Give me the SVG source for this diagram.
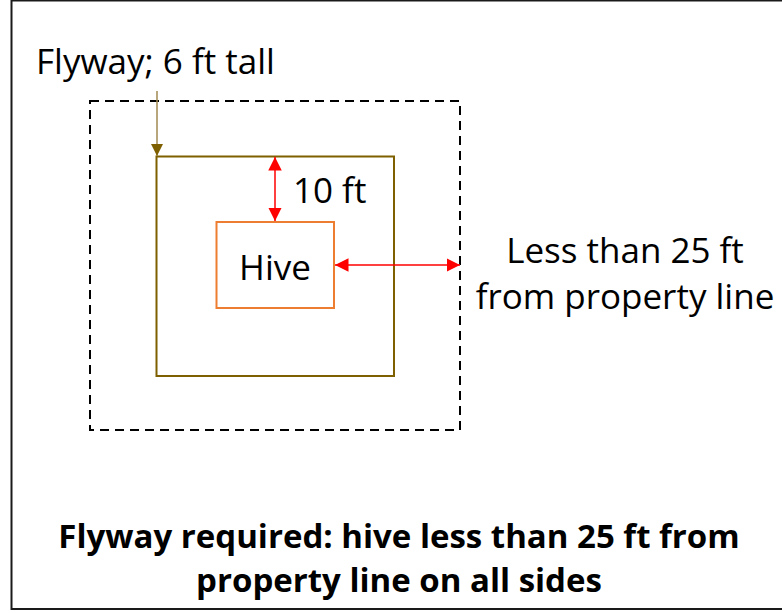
<svg xmlns="http://www.w3.org/2000/svg" width="782" height="613" viewBox="0 0 782 613">
<style>
text{font-family:"Open Sans","Liberation Sans",sans-serif;fill:#000}
.t{font-size:35px}
.b{font-size:33px;font-weight:bold}
</style>
<defs>
<marker id="ao" viewBox="0 0 10 10" refX="10" refY="5" markerWidth="8" markerHeight="8" orient="auto"><path d="M0,0L10,5L0,10z" fill="#7f6000"/></marker>
<marker id="ar" viewBox="0 0 10 10" refX="10" refY="5" markerWidth="9" markerHeight="9" orient="auto-start-reverse"><path d="M0,0L10,5L0,10z" fill="#ff0000"/></marker>
</defs>
<rect width="782" height="613" fill="#fff"/>
<rect id="frame" x="11.5" y="0.5" width="790" height="608.5" fill="none" stroke="#1a1a1a" stroke-width="2"/>
<g id="flyway"><rect x="90" y="101" width="370" height="329" fill="none" stroke="#000" stroke-width="2" stroke-dasharray="9,6"/></g>
<g id="inner"><rect x="156.5" y="156.5" width="237.5" height="219.5" fill="none" stroke="#7f6000" stroke-width="2"/></g>
<g id="hive"><rect x="216.5" y="222" width="117.5" height="86" fill="none" stroke="#ed7d31" stroke-width="2"/><text class="t" x="275" y="280" text-anchor="middle">Hive</text></g>
<g id="connectors">
<line x1="157" y1="91" x2="157" y2="156" stroke="#a08a50" stroke-width="1.5" marker-end="url(#ao)"/>
<line x1="275" y1="157" x2="275" y2="221" stroke="#ff0000" stroke-width="1.5" marker-start="url(#ar)" marker-end="url(#ar)"/>
<line x1="335" y1="265" x2="460" y2="265" stroke="#ff0000" stroke-width="1.5" marker-start="url(#ar)" marker-end="url(#ar)"/>
</g>
<g id="labels">
<text class="t" x="36" y="74">Flyway; 6 ft tall</text>
<text class="t" x="293" y="203">10 ft</text>
<text class="t" x="625" y="263" text-anchor="middle">Less than 25 ft</text>
<text class="t" x="625" y="309" text-anchor="middle">from property line</text>
<text class="b" x="399" y="548" text-anchor="middle">Flyway required: hive less than 25 ft from</text>
<text class="b" x="399" y="592" text-anchor="middle">property line on all sides</text>
</g>
</svg>
